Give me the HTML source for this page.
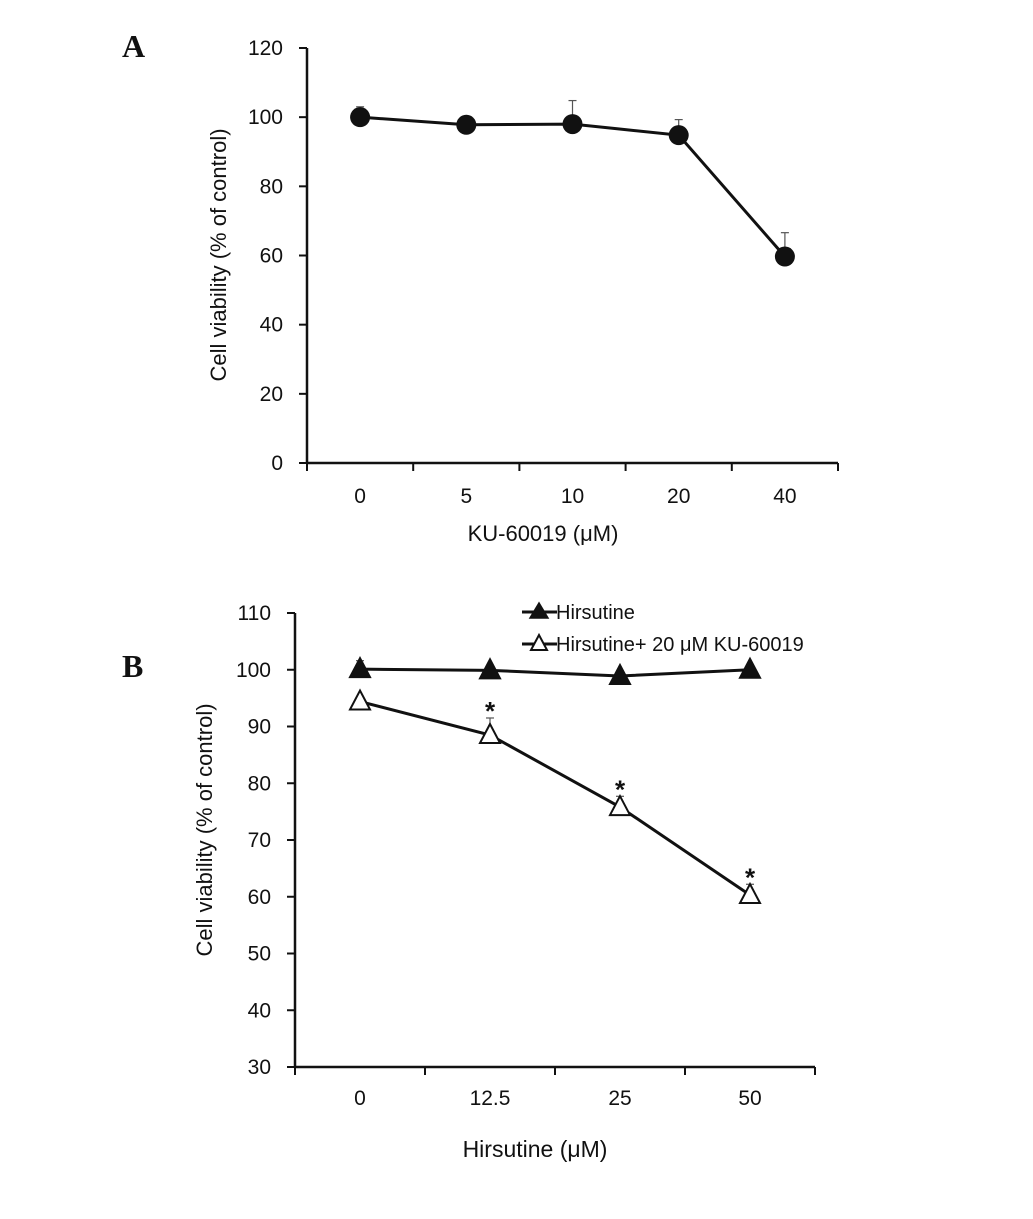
<!DOCTYPE html>
<html><head><meta charset="utf-8"><style>
body{margin:0;background:#fff}
svg{display:block}
text{font-family:"Liberation Sans",sans-serif;fill:#111}
</style></head><body>
<svg id="chart" width="1033" height="1219" viewBox="0 0 1033 1219" xmlns="http://www.w3.org/2000/svg">
<text x="122" y="57" style="font-family:'Liberation Serif',serif;font-weight:bold;font-size:32px">A</text>
<text x="122" y="677" style="font-family:'Liberation Serif',serif;font-weight:bold;font-size:32px">B</text>
<g id="pa"></g>
<g id="pb"></g>
</svg>
<script>
const aCats=["0","5","10","20","40"];
const aVals=[100,97.8,98,94.8,59.7];
const aErr=[3,0.5,6.8,4.5,6.9];
const aTicks=[0,20,40,60,80,100,120];
const bCats=["0","12.5","25","50"];
const bHirs=[100.1,99.9,98.9,100];
const bHirsErr=[1.5,0.3,0.3,0.3];
const bCombo=[94.4,88.5,75.8,60.3];
const bComboErr=[0.5,3,1.9,1.9];
const bSig=[false,true,true,true];
const bTicks=[30,40,50,60,70,80,90,100,110];
const NS="http://www.w3.org/2000/svg";
function mk(p,t,a){const e=document.createElementNS(NS,t);for(const k in a)e.setAttribute(k,a[k]);p.appendChild(e);return e;}
// Panel A
(function(){
const g=document.getElementById('pa');
const x0=307,x1=838,y0=463,y1=48,min=0,max=120;
const n=aCats.length,step=(x1-x0)/n;
const X=i=>x0+step*(i+0.5), Y=v=>y0-(v-min)/(max-min)*(y0-y1);
let e=mk(g,'line',{x1:x0,y1:y1,x2:x0,y2:y0,stroke:'#111','stroke-width':2.5});

e=mk(g,'line',{x1:x0,y1:y0,x2:x1,y2:y0,stroke:'#111','stroke-width':2.5});

aTicks.forEach(t=>{mk(g,'line',{x1:x0-8,y1:Y(t),x2:x0,y2:Y(t),stroke:'#111','stroke-width':2});
 e=mk(g,'text',{x:x0-24,y:Y(t)+7,'text-anchor':'end','font-size':21});e.textContent=t;
 });
for(let i=0;i<=n;i++)mk(g,'line',{x1:x0+step*i,y1:y0,x2:x0+step*i,y2:y0+8,stroke:'#111','stroke-width':2});
aCats.forEach((c,i)=>{e=mk(g,'text',{x:X(i),y:503,'text-anchor':'middle','font-size':21});e.textContent=c;
 });
e=mk(g,'text',{x:543,y:541,'text-anchor':'middle','font-size':22});e.textContent='KU-60019 (μM)';

e=mk(g,'text',{x:0,y:0,'text-anchor':'middle','font-size':22,transform:'translate(226,255) rotate(-90)'});e.textContent='Cell viability (% of control)';

aVals.forEach((v,i)=>{const yt=Y(v+aErr[i]);
 mk(g,'line',{x1:X(i),y1:Y(v),x2:X(i),y2:yt,stroke:'#555','stroke-width':1.2});
 mk(g,'line',{x1:X(i)-4,y1:yt,x2:X(i)+4,y2:yt,stroke:'#555','stroke-width':1.2});});
e=mk(g,'polyline',{points:aVals.map((v,i)=>X(i)+','+Y(v)).join(' '),fill:'none',stroke:'#111','stroke-width':3});

aVals.forEach((v,i)=>{e=mk(g,'circle',{cx:X(i),cy:Y(v),r:10,fill:'#111'});
 });
})();
// Panel B
(function(){
const g=document.getElementById('pb');
const x0=295,x1=815,y0=1067,y1=613,min=30,max=110;
const n=bCats.length,step=(x1-x0)/n;
const X=i=>x0+step*(i+0.5), Y=v=>y0-(v-min)/(max-min)*(y0-y1);
let e=mk(g,'line',{x1:x0,y1:y1,x2:x0,y2:y0,stroke:'#111','stroke-width':2.5});

e=mk(g,'line',{x1:x0,y1:y0,x2:x1,y2:y0,stroke:'#111','stroke-width':2.5});

bTicks.forEach(t=>{mk(g,'line',{x1:x0-8,y1:Y(t),x2:x0,y2:Y(t),stroke:'#111','stroke-width':2});
 e=mk(g,'text',{x:x0-24,y:Y(t)+7,'text-anchor':'end','font-size':21});e.textContent=t;
 });
for(let i=0;i<=n;i++)mk(g,'line',{x1:x0+step*i,y1:y0,x2:x0+step*i,y2:y0+8,stroke:'#111','stroke-width':2});
bCats.forEach((c,i)=>{e=mk(g,'text',{x:X(i),y:1105,'text-anchor':'middle','font-size':21});e.textContent=c;
 });
e=mk(g,'text',{x:535,y:1157,'text-anchor':'middle','font-size':23});e.textContent='Hirsutine (μM)';

e=mk(g,'text',{x:0,y:0,'text-anchor':'middle','font-size':22,transform:'translate(212,830) rotate(-90)'});e.textContent='Cell viability (% of control)';

function tri(cx,cy,fill){return mk(g,'polygon',{points:(cx)+','+(cy-11)+' '+(cx-10)+','+(cy+8)+' '+(cx+10)+','+(cy+8),fill:fill,stroke:'#111','stroke-width':2});}
[[bHirs,bHirsErr],[bCombo,bComboErr]].forEach(([vals,err])=>vals.forEach((v,i)=>{const yt=Y(v+err[i]);
 mk(g,'line',{x1:X(i),y1:Y(v),x2:X(i),y2:yt,stroke:'#555','stroke-width':1.2});
 mk(g,'line',{x1:X(i)-4,y1:yt,x2:X(i)+4,y2:yt,stroke:'#555','stroke-width':1.2});}));
e=mk(g,'polyline',{points:bHirs.map((v,i)=>X(i)+','+Y(v)).join(' '),fill:'none',stroke:'#111','stroke-width':3});

e=mk(g,'polyline',{points:bCombo.map((v,i)=>X(i)+','+Y(v)).join(' '),fill:'none',stroke:'#111','stroke-width':3});

bHirs.forEach((v,i)=>{e=tri(X(i),Y(v),'#111');
 });
bCombo.forEach((v,i)=>{e=tri(X(i),Y(v),'#fff');
 
 if(bSig[i]){const s=mk(g,'text',{x:X(i),y:Y(v+bComboErr[i])+2,'text-anchor':'middle','font-size':26,'font-weight':'bold'});s.textContent='*';
  }});
// legend
const lg=mk(g,'g',{});

mk(lg,'line',{x1:522,y1:612,x2:557,y2:612,stroke:'#111','stroke-width':3});
mk(lg,'polygon',{points:'539,603 530,618 548,618',fill:'#111',stroke:'#111','stroke-width':1.5});
e=mk(lg,'text',{x:556,y:619,'font-size':20});e.textContent='Hirsutine';

mk(lg,'line',{x1:522,y1:644,x2:557,y2:644,stroke:'#111','stroke-width':3});
mk(lg,'polygon',{points:'539,635 531,650 547,650',fill:'#fff',stroke:'#111','stroke-width':2});
e=mk(lg,'text',{x:556,y:651,'font-size':20});e.textContent='Hirsutine+ 20 μM KU-60019';

})();
</script>
</body></html>
